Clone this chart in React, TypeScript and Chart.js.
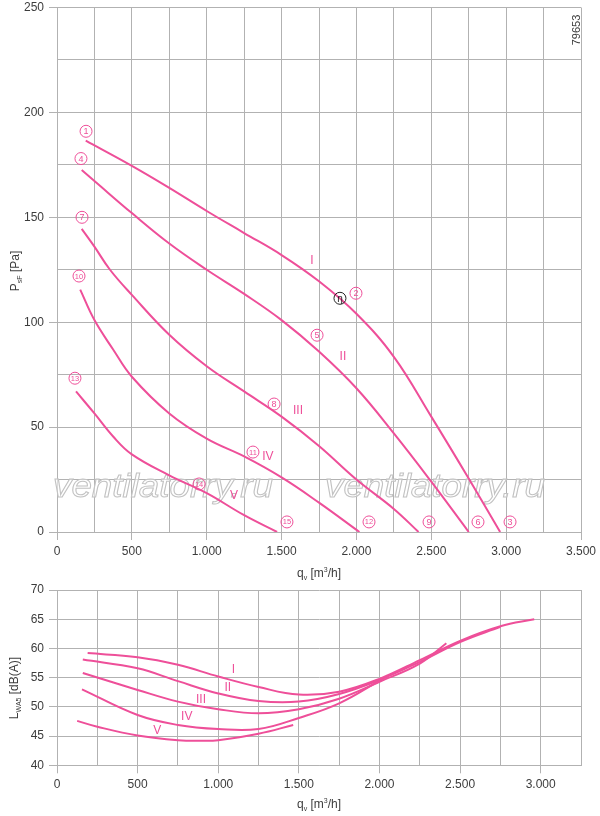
import React, { useEffect, useRef } from "react";
import { Chart, registerables } from "chart.js";
Chart.register(...registerables);

const PINK = "#ee4f99";
const GRID = "#b2b2b2";
const TEXT = "#3c3c3c";
const FONT = '"Liberation Sans", Arial, sans-serif';

// ---------- Top chart: static pressure P_sF [Pa] vs flow q_v [m3/h]
const qI = [192, 500, 750, 1000, 1250, 1500, 1750, 2000, 2250, 2500, 2750, 2960];
const pI = [186.5, 174.5, 164, 153, 142.5, 132, 119.5, 104, 83.5, 55, 25.5, 0];
const qII = [165, 250, 500, 750, 1000, 1250, 1500, 1750, 2000, 2250, 2500, 2750];
const pII = [172.5, 167.3, 152, 137.5, 125, 113.5, 101, 86, 68.5, 47, 24, 0];
const qIII = [165, 250, 354, 500, 750, 1000, 1250, 1500, 1750, 2000, 2250, 2415];
const pIII = [144.5, 136, 125, 113, 94, 79, 67, 55, 41, 25, 11, 0];
const qIV = [155, 250, 375, 500, 750, 1000, 1250, 1500, 1750, 2020];
const pIV = [115.5, 101, 87, 74, 56.5, 44.5, 36, 26, 14, 0];
const qV = [127, 250, 375, 500, 750, 1000, 1250, 1470];
const pV = [67, 56.5, 45.5, 37, 27, 18.5, 8, 0];

// ---------- Bottom chart: sound power L_WA5 [dB(A)] vs flow
const lqI = [190, 500, 750, 1000, 1250, 1500, 1750, 2000, 2250, 2500, 2750, 2960];
const lI = [59.2, 58.5, 57.2, 55.2, 53.4, 52.1, 52.6, 54.8, 58, 61.3, 63.8, 65];
const lqII = [160, 500, 750, 1000, 1250, 1500, 1750, 2000, 2250, 2500, 2750];
const lII = [58.1, 56.6, 54.4, 52.3, 51.0, 50.9, 52.2, 54.6, 57.7, 61.1, 63.7];
const lqIII = [160, 500, 750, 1000, 1250, 1500, 1750, 2000, 2250, 2415];
const lIII = [55.8, 52.9, 50.9, 49.6, 48.9, 49.6, 51.4, 54.3, 57.4, 60.9];
const lqIV = [155, 500, 750, 1000, 1250, 1500, 1750, 2020];
const lIV = [53, 48.6, 46.9, 46.2, 46.2, 48.1, 50.6, 54.8];
const lqV = [125, 250, 500, 750, 900, 1000, 1250, 1465];
const lV = [47.6, 46.6, 45.1, 44.3, 44.2, 44.3, 45.4, 46.9];

// ---------- Annotations
const romanLabels = ["I", "II", "III", "IV", "V"];
const romanTopQ = [1703, 1910, 1610, 1409, 1182];
const romanTopP = [129.5, 83.8, 58, 35.7, 17.1];
const romanBotQ = [1094, 1059, 893, 805, 622];
const romanBotL = [56.4, 53.2, 51.2, 48.3, 45.9];
const markerNums = [1, 4, 7, 10, 13, 2, 5, 8, 11, 14, 3, 6, 9, 12, 15];
const markerQ = [194, 160, 167, 147, 120, 1997, 1737, 1450, 1309, 949, 3026, 2812, 2485, 2084, 1536];
const markerP = [191, 178, 150, 122, 73.3, 113.8, 93.8, 61, 38.1, 22.9, 4.8, 4.8, 4.8, 4.8, 4.8];
const etaQ = 1890;
const etaP = 111.4;
const drawingNo = "79653";
const watermark = "ventilatorry.ru";

function fmt(v: number): string {
  if (v >= 1000) {
    return `${Math.floor(v / 1000)}.${String(v % 1000).padStart(3, "0")}`;
  }
  return String(v);
}

function mk(qs: number[], vs: number[], label: string) {
  return {
    label,
    data: qs.map((q, i) => ({ x: q, y: vs[i] })),
    borderColor: PINK,
    borderWidth: 2,
    pointRadius: 0,
    fill: false,
    tension: 0.4,
  };
}

type Part = { t: string; size: number; dy: number };

function drawRich(ctx: CanvasRenderingContext2D, parts: Part[], cx: number, cy: number, rotate: boolean) {
  ctx.save();
  ctx.translate(cx, cy);
  if (rotate) ctx.rotate(-Math.PI / 2);
  let total = 0;
  const widths = parts.map((p) => {
    ctx.font = `${p.size}px ${FONT}`;
    const w = ctx.measureText(p.t).width;
    total += w;
    return w;
  });
  let x = -total / 2;
  ctx.textBaseline = "alphabetic";
  ctx.textAlign = "left";
  ctx.fillStyle = TEXT;
  parts.forEach((p, i) => {
    ctx.font = `${p.size}px ${FONT}`;
    ctx.fillText(p.t, x, 4.3 + p.dy);
    x += widths[i];
  });
  ctx.restore();
}

function circled(ctx: CanvasRenderingContext2D, x: number, y: number, txt: string, color: string, size: number) {
  ctx.save();
  ctx.beginPath();
  ctx.arc(x, y, 6, 0, Math.PI * 2);
  ctx.strokeStyle = color;
  ctx.lineWidth = 1;
  ctx.stroke();
  ctx.fillStyle = color;
  ctx.font = `${size}px ${FONT}`;
  ctx.textAlign = "center";
  ctx.textBaseline = "middle";
  ctx.fillText(txt, x, y + 0.5);
  ctx.restore();
}

function xScale(max: number, height: number) {
  return {
    type: "linear" as const,
    min: 0,
    max,
    afterFit: (s: any) => {
      s.height = height;
      s.paddingLeft = 0;
      s.paddingRight = 0;
    },
    ticks: {
      stepSize: 250,
      autoSkip: false,
      maxRotation: 0,
      padding: 4,
      color: TEXT,
      font: { family: FONT, size: 12 },
      callback: (v: any) => (Number(v) % 500 === 0 ? fmt(Number(v)) : ""),
    },
    grid: {
      color: GRID,
      lineWidth: 1,
      tickLength: 8,
      tickColor: (c: any) => (c.tick && c.tick.value % 500 === 0 ? GRID : "rgba(0,0,0,0)"),
    },
    border: { color: GRID, width: 1 },
  };
}

function yScale(min: number, max: number, step: number, labelStep: number) {
  return {
    type: "linear" as const,
    min,
    max,
    afterFit: (s: any) => {
      s.width = 57;
      s.paddingTop = 0;
      s.paddingBottom = 0;
    },
    ticks: {
      stepSize: step,
      autoSkip: false,
      padding: 5,
      color: TEXT,
      font: { family: FONT, size: 12 },
      callback: (v: any) => (Number(v) % labelStep === 0 ? String(v) : ""),
    },
    grid: {
      color: GRID,
      lineWidth: 1,
      tickLength: 8,
      tickColor: (c: any) => (c.tick && c.tick.value % labelStep === 0 ? GRID : "rgba(0,0,0,0)"),
    },
    border: { color: GRID, width: 1 },
  };
}

const qvTitle: Part[] = [
  { t: "q", size: 12, dy: 0 },
  { t: "v", size: 7, dy: 2.5 },
  { t: " [m", size: 12, dy: 0 },
  { t: "3", size: 7, dy: -5 },
  { t: "/h]", size: 12, dy: 0 },
];

export default function App() {
  const topRef = useRef<HTMLCanvasElement>(null);
  const botRef = useRef<HTMLCanvasElement>(null);

  useEffect(() => {
    const topPlugin = {
      id: "topDeco",
      beforeDatasetsDraw(chart: any) {
        const ctx: CanvasRenderingContext2D = chart.ctx;
        ctx.save();
        ctx.font = `italic 33px ${FONT}`;
        const w = ctx.measureText(watermark).width;
        const sx = 220 / w;
        [53, 325].forEach((x0) => {
          ctx.save();
          ctx.translate(x0, 497);
          ctx.scale(sx, 1);
          ctx.fillStyle = "rgba(255,255,255,0.55)";
          ctx.strokeStyle = "#c2c2c2";
          ctx.lineWidth = 1;
          ctx.fillText(watermark, 0, 0);
          ctx.strokeText(watermark, 0, 0);
          ctx.restore();
        });
        ctx.restore();
      },
      afterDatasetsDraw(chart: any) {
        const ctx: CanvasRenderingContext2D = chart.ctx;
        const xs = chart.scales.x;
        const ys = chart.scales.y;
        ctx.save();
        ctx.fillStyle = PINK;
        ctx.font = `12px ${FONT}`;
        ctx.textAlign = "center";
        ctx.textBaseline = "middle";
        romanLabels.forEach((r, i) => {
          ctx.fillText(r, xs.getPixelForValue(romanTopQ[i]), ys.getPixelForValue(romanTopP[i]));
        });
        ctx.restore();
        markerNums.forEach((n, i) => {
          circled(ctx, xs.getPixelForValue(markerQ[i]), ys.getPixelForValue(markerP[i]), String(n), PINK, n >= 10 ? 7.5 : 9);
        });
        circled(ctx, xs.getPixelForValue(etaQ), ys.getPixelForValue(etaP), "η", "#222", 10);
        // axis titles
        drawRich(ctx, qvTitle, 319, 573, false);
        drawRich(
          ctx,
          [
            { t: "P", size: 12, dy: 0 },
            { t: "sF", size: 7, dy: 2.5 },
            { t: " [Pa]", size: 12, dy: 0 },
          ],
          15,
          271,
          true
        );
        // drawing number
        ctx.save();
        ctx.translate(577, 30);
        ctx.rotate(-Math.PI / 2);
        ctx.fillStyle = TEXT;
        ctx.font = `11px ${FONT}`;
        ctx.textAlign = "center";
        ctx.textBaseline = "middle";
        ctx.fillText(drawingNo, 0, 0);
        ctx.restore();
      },
    };

    const botPlugin = {
      id: "botDeco",
      afterDatasetsDraw(chart: any) {
        const ctx: CanvasRenderingContext2D = chart.ctx;
        const xs = chart.scales.x;
        const ys = chart.scales.y;
        ctx.save();
        ctx.fillStyle = PINK;
        ctx.font = `12px ${FONT}`;
        ctx.textAlign = "center";
        ctx.textBaseline = "middle";
        romanLabels.forEach((r, i) => {
          ctx.fillText(r, xs.getPixelForValue(romanBotQ[i]), ys.getPixelForValue(romanBotL[i]));
        });
        ctx.restore();
        drawRich(ctx, qvTitle, 319, 229, false);
        drawRich(
          ctx,
          [
            { t: "L", size: 12, dy: 0 },
            { t: "WA5", size: 7, dy: 2.5 },
            { t: " [dB(A)]", size: 12, dy: 0 },
          ],
          14,
          113,
          true
        );
      },
    };

    const top = new Chart(topRef.current!, {
      type: "line",
      data: {
        datasets: [
          mk(qI, pI, "I"),
          mk(qII, pII, "II"),
          mk(qIII, pIII, "III"),
          mk(qIV, pIV, "IV"),
          mk(qV, pV, "V"),
        ],
      },
      options: {
        responsive: false,
        animation: false,
        layout: { padding: { top: 7.5, right: 19, left: 0, bottom: 0 } },
        plugins: { legend: { display: false }, tooltip: { enabled: false } },
        scales: {
          x: xScale(3500, 58),
          y: yScale(0, 250, 25, 50),
        },
      } as any,
      plugins: [topPlugin],
    });

    const bot = new Chart(botRef.current!, {
      type: "line",
      data: {
        datasets: [
          mk(lqI, lI, "I"),
          mk(lqII, lII, "II"),
          mk(lqIII, lIII, "III"),
          mk(lqIV, lIV, "IV"),
          mk(lqV, lV, "V"),
        ],
      },
      options: {
        responsive: false,
        animation: false,
        layout: { padding: { top: 15, right: 19, left: 0, bottom: 0 } },
        plugins: { legend: { display: false }, tooltip: { enabled: false } },
        scales: {
          x: xScale(3250, 50.7),
          y: yScale(40, 70, 5, 5),
        },
      } as any,
      plugins: [botPlugin],
    });

    return () => {
      top.destroy();
      bot.destroy();
    };
  }, []);

  return (
    <div style={{ position: "absolute", left: 0, top: 0, width: 600, height: 816, background: "#fff" }}>
      <canvas ref={topRef} width={600} height={590} style={{ position: "absolute", left: 0, top: 0 }} />
      <canvas ref={botRef} width={600} height={241} style={{ position: "absolute", left: 0, top: 575 }} />
    </div>
  );
}
